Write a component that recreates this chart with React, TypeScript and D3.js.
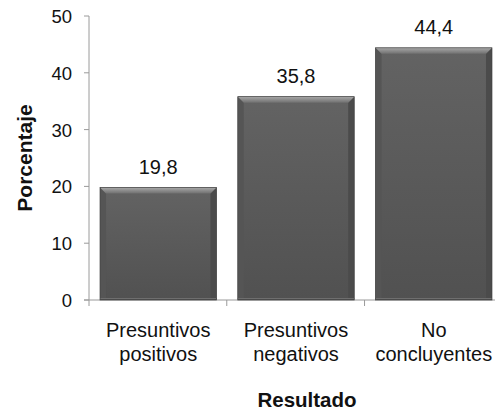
import React, { useEffect, useRef } from 'react';
import * as d3 from 'd3';

const categories = ['Presuntivos positivos', 'Presuntivos negativos', 'No concluyentes'];
const categoryLines = [
  ['Presuntivos', 'positivos'],
  ['Presuntivos', 'negativos'],
  ['No', 'concluyentes'],
];
const values = [19.8, 35.8, 44.4];
const valueLabels = ['19,8', '35,8', '44,4'];
const yTicks = [0, 10, 20, 30, 40, 50];

const W = 495;
const H = 414;
const FONT = 'Arial, "Liberation Sans", sans-serif';

const App = () => {
  const svgRef = useRef<SVGSVGElement>(null);

  useEffect(() => {
    const svg = d3.select(svgRef.current);
    svg.selectAll('*').remove();

    const left = 89;
    const right = 503;
    const top = 16;
    const bottom = 300;

    const x = d3.scaleBand<string>().domain(categories).range([left, right]).paddingInner(0.155).paddingOuter(0.08);
    const y = d3.scaleLinear().domain([0, 50]).range([bottom, top]);
    const step = x.step();

    const defs = svg.append('defs');
    const grad = defs.append('linearGradient').attr('id', 'barGrad').attr('x1', 0).attr('y1', 0).attr('x2', 0).attr('y2', 1);
    grad.append('stop').attr('offset', '0%').attr('stop-color', '#636363');
    grad.append('stop').attr('offset', '100%').attr('stop-color', '#515151');
    const topGrad = defs.append('linearGradient').attr('id', 'topGrad').attr('x1', 0).attr('y1', 0).attr('x2', 0).attr('y2', 1);
    topGrad.append('stop').attr('offset', '0%').attr('stop-color', '#a8a8a8');
    topGrad.append('stop').attr('offset', '100%').attr('stop-color', '#707070');

    // axes
    const axisColor = '#9a9a9a';
    svg.append('line').attr('x1', left).attr('x2', left).attr('y1', top).attr('y2', bottom).attr('stroke', axisColor);
    svg.append('line').attr('x1', left - 5).attr('x2', right).attr('y1', bottom).attr('y2', bottom).attr('stroke', axisColor);
    svg.selectAll('.ytick').data(yTicks).enter().append('line')
      .attr('x1', left - 5).attr('x2', left).attr('y1', (d) => y(d)).attr('y2', (d) => y(d)).attr('stroke', axisColor);
    svg.selectAll('.ylab').data(yTicks).enter().append('text')
      .attr('x', left - 17).attr('y', (d) => y(d) + 7).attr('text-anchor', 'end')
      .attr('font-family', FONT).attr('font-size', 18.5).attr('fill', '#111').text((d) => d);
    d3.range(categories.length + 1).forEach((i) => {
      const xx = left + i * step;
      svg.append('line').attr('x1', xx).attr('x2', xx).attr('y1', bottom).attr('y2', bottom + 6).attr('stroke', axisColor);
    });

    // bars with bevel
    const bev = 6;
    const g = svg.selectAll('.bar').data(values).enter().append('g');
    g.each(function (v, i) {
      const el = d3.select(this);
      const x0 = x(categories[i]) as number;
      const bw = x.bandwidth();
      const y0 = y(v);
      const x1 = x0 + bw;
      const pts = (arr: number[][]) => arr.map((p) => p.join(',')).join(' ');
      el.append('rect').attr('x', x0).attr('y', y0).attr('width', bw).attr('height', bottom - y0)
        .attr('fill', 'url(#barGrad)');
      // side bevels
      el.append('polygon')
        .attr('points', pts([[x0, y0], [x0 + bev, y0 + bev], [x0 + bev, bottom - 2], [x0, bottom]]))
        .attr('fill', '#555555');
      el.append('polygon')
        .attr('points', pts([[x1, y0], [x1 - bev, y0 + bev], [x1 - bev, bottom - 2], [x1, bottom]]))
        .attr('fill', '#4b4b4b');
      // top bevel
      el.append('polygon')
        .attr('points', pts([[x0, y0], [x1, y0], [x1 - bev, y0 + bev], [x0 + bev, y0 + bev]]))
        .attr('fill', 'url(#topGrad)');
      // bottom highlight
      el.append('line').attr('x1', x0).attr('x2', x1).attr('y1', bottom - 1.5).attr('y2', bottom - 1.5)
        .attr('stroke', '#6e6e6e').attr('stroke-width', 1);
      el.append('rect').attr('x', x0).attr('y', y0).attr('width', bw).attr('height', bottom - y0)
        .attr('fill', 'none').attr('stroke', '#404040').attr('stroke-width', 0.7);
      el.append('text').attr('x', x0 + bw / 2).attr('y', y0 - 14).attr('text-anchor', 'middle')
        .attr('font-family', FONT).attr('font-size', 20).attr('fill', '#111').text(valueLabels[i]);
    });

    // category labels
    categories.forEach((c, i) => {
      const cx = (x(c) as number) + x.bandwidth() / 2;
      categoryLines[i].forEach((line, j) => {
        svg.append('text').attr('x', cx).attr('y', 337 + j * 23.5).attr('text-anchor', 'middle')
          .attr('font-family', FONT).attr('font-size', 20).attr('fill', '#111').text(line);
      });
    });

    svg.append('text').attr('x', 307).attr('y', 407).attr('text-anchor', 'middle')
      .attr('font-family', FONT).attr('font-size', 20.5).attr('font-weight', 'bold').attr('fill', '#111').text('Resultado');
    svg.append('text').attr('transform', 'translate(32,158) rotate(-90)').attr('text-anchor', 'middle')
      .attr('font-family', FONT).attr('font-size', 21).attr('font-weight', 'bold').attr('fill', '#111').text('Porcentaje');
  }, []);

  return (
    <svg ref={svgRef} width={W} height={H} style={{ position: 'absolute', left: 0, top: 0, background: '#fff' }} />
  );
};

export default App;
